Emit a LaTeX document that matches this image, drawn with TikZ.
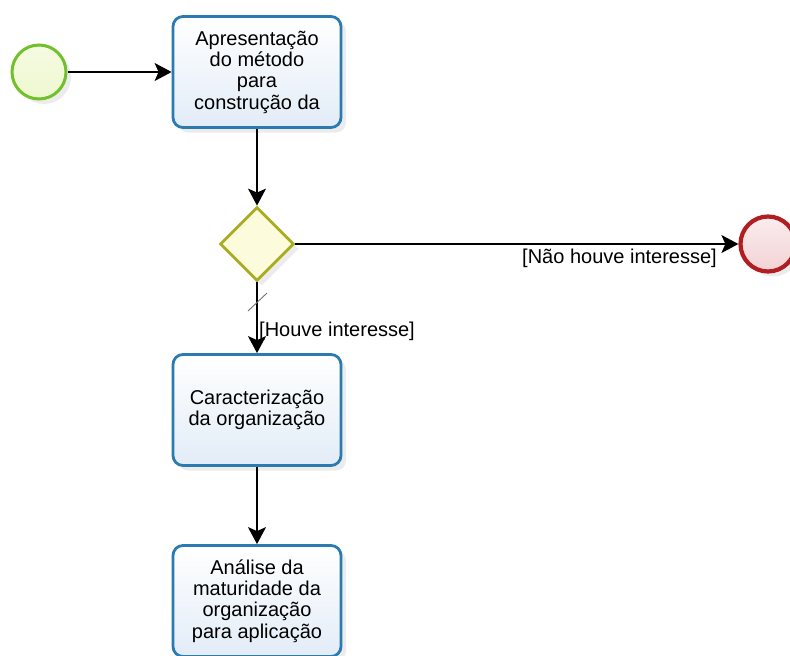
\documentclass[tikz,border=0pt]{standalone}
\usepackage{fontspec}
\setmainfont{Liberation Sans}
\usetikzlibrary{arrows.meta,shapes.geometric,shadows}
\definecolor{taskline}{HTML}{2B7BB0}
\definecolor{taskfill}{HTML}{E2ECF7}
\definecolor{startline}{HTML}{72C02C}
\definecolor{startfill}{HTML}{EEF8CF}
\definecolor{gateline}{HTML}{A9AD24}
\definecolor{gatefill}{HTML}{FCFCDC}
\definecolor{endline}{HTML}{B01E22}
\definecolor{endfill}{HTML}{F3D2D4}
\tikzset{
  x=1pt, y=-1pt,
  softshadow/.style={drop shadow={opacity=0.12, shadow xshift=5pt, shadow yshift=-5pt, fill=black!60}},
  task/.style={draw=taskline, line width=2.8pt, rounded corners=10pt,
    top color=white, bottom color=taskfill, softshadow,
    minimum width=168pt, minimum height=111pt, inner sep=0pt,
    align=center, font=\fontsize{20}{21.3}\selectfont},
  startev/.style={circle, draw=startline, line width=3pt, inner sep=0pt,
    minimum size=54pt, top color=startfill!60!white, bottom color=startfill, softshadow},
  endev/.style={circle, draw=endline, line width=4.2pt, inner sep=0pt,
    minimum size=55pt, top color=endfill!40!white, bottom color=endfill, softshadow},
  gateway/.style={diamond, draw=gateline, line width=2.8pt, inner sep=0pt,
    minimum width=74pt, minimum height=74pt, aspect=1, fill=gatefill, softshadow},
  flow/.style={line width=1.8pt, -{Stealth[length=17pt,width=18pt,inset=4pt]}},
  guard/.style={font=\fontsize{20}{22}\selectfont, inner sep=0pt}
}
\begin{document}
\begin{tikzpicture}
\useasboundingbox (0,0) rectangle (790,656);

\node[startev] (start) at (39,72) {};
\node[task] (present) at (257,72) {Apresentação\\do método\\para\\construção da};
\node[gateway] (gate) at (257,244) {};
\node[endev] (finish) at (768,244) {};
\node[task] (charac) at (257,410) {Caracterização\\da organização};
\node[task] (analysis) at (257,601) {Análise da\\maturidade da\\organização\\para aplicação};

\draw[flow] (start.east) -- (start.east -| present.west);
\draw[flow] (present.south -| gate.north) -- (gate.north);
\draw[flow] (gate.east) -- (finish.west);
\draw[flow] (gate.south) -- (charac.north -| gate.south);
\draw[flow] (charac.south -| gate.south) -- (analysis.north -| gate.south);

% default-flow marker
\coordinate (slashA) at (248,311);
\coordinate (slashB) at (267,293);
\draw[black!55, line width=0.9pt] (slashA) -- (slashB);

\node[guard, anchor=east] (nolabel) at (717,258) {[Não houve interesse]};
\node[guard, anchor=west] (yeslabel) at (259,331) {[Houve interesse]};
\end{tikzpicture}
\end{document}
